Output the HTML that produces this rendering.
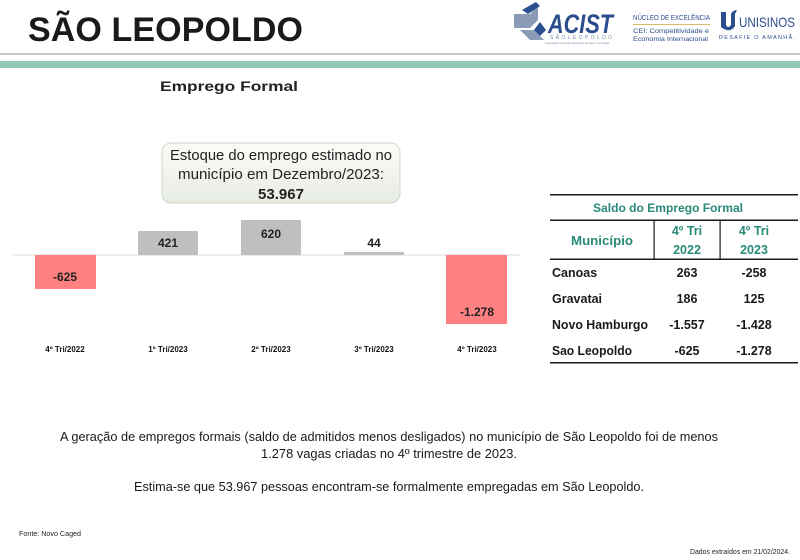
<!DOCTYPE html>
<html><head><meta charset="utf-8"><style>
html,body{margin:0;padding:0;background:#fff;width:800px;height:560px;overflow:hidden}
svg{display:block}
text{font-family:"Liberation Sans",sans-serif}
</style></head><body>
<svg width="800" height="560" viewBox="0 0 800 560" xmlns="http://www.w3.org/2000/svg">
<defs>
<linearGradient id="cg" x1="0" y1="0" x2="0" y2="1">
<stop offset="0" stop-color="#fbfcf8"/><stop offset="1" stop-color="#e7ece3"/>
</linearGradient>
</defs>
<text x="28" y="41" font-size="34" font-weight="bold" fill="#1a1a1a" textLength="275" lengthAdjust="spacing">SÃO LEOPOLDO</text>
<rect x="0" y="53" width="800" height="2" fill="#c6c6c6"/>
<rect x="0" y="61" width="800" height="7" fill="#93c8b8"/>
<g fill="#8a9bb8">
<polygon points="514,14 530,14 538,6 538,20 530,28 514,28"/>
<polygon points="520,30 534,30 544,40 530,40"/>
</g>
<g fill="#2a4f8f">
<polygon points="522,10 536,2 540,6 528,14"/>
<polygon points="540,22 546,30 540,36 534,30"/>
</g>
<text x="548" y="33" font-size="27" font-weight="bold" font-style="italic" fill="#2b4d8e" textLength="65" lengthAdjust="spacingAndGlyphs">ACIST</text>
<text x="550" y="39" font-size="5" fill="#7c8aa8" textLength="62" lengthAdjust="spacing">SÃOLEOPOLDO</text>
<text x="545" y="44" font-size="3" fill="#7c8aa8" textLength="64" lengthAdjust="spacingAndGlyphs">Associação Comercial Industrial de Serviços e Tecnologia</text>
<text x="633" y="20" font-size="7.5" fill="#2b4d8e" textLength="77" lengthAdjust="spacingAndGlyphs">NÚCLEO DE EXCELÊNCIA</text>
<rect x="633" y="24" width="77" height="0.8" fill="#d4a94a"/>
<text x="633" y="33" font-size="6.5" fill="#2b4d8e" textLength="76" lengthAdjust="spacingAndGlyphs">CEI: Competitividade e</text>
<text x="633" y="41" font-size="6.5" fill="#2b4d8e" textLength="75" lengthAdjust="spacingAndGlyphs">Economia Internacional</text>
<path d="M721,12 L726,12 L726,25 Q728,29 731,25 L731,14 Q733,10 737,10 L735,14 L735,26 Q730,34 721,27 Z" fill="#2b4d8e"/>
<text x="739" y="27" font-size="14" fill="#2b4d8e" textLength="56" lengthAdjust="spacingAndGlyphs">UNISINOS</text>
<text x="719" y="39" font-size="5.5" fill="#2b4d8e" textLength="76" lengthAdjust="spacing">DESAFIE O AMANHÃ.</text>
<text x="160" y="91" font-size="14" font-weight="bold" fill="#222" textLength="138" lengthAdjust="spacingAndGlyphs">Emprego Formal</text>
<rect x="162" y="143" width="238" height="60" rx="9" fill="url(#cg)" stroke="#cdd6c8" stroke-width="1"/>
<text x="281" y="160" font-size="14.5" fill="#222" text-anchor="middle" textLength="222" lengthAdjust="spacingAndGlyphs">Estoque do emprego estimado no</text>
<text x="281" y="179" font-size="14.5" fill="#222" text-anchor="middle" textLength="206" lengthAdjust="spacingAndGlyphs">município em Dezembro/2023:</text>
<text x="281" y="199" font-size="15" font-weight="bold" fill="#222" text-anchor="middle">53.967</text>
<rect x="13" y="254.5" width="507" height="1" fill="#d9d9d9"/>
<rect x="35" y="255" width="61" height="34" fill="#ff8080"/>
<rect x="138" y="231" width="60" height="24" fill="#bfbfbf"/>
<rect x="241" y="220" width="60" height="35" fill="#bfbfbf"/>
<rect x="344" y="252" width="60" height="3" fill="#bfbfbf"/>
<rect x="446" y="255" width="61" height="69" fill="#ff8080"/>
<g font-size="12" font-weight="bold" fill="#222" text-anchor="middle">
<text x="65" y="281">-625</text>
<text x="168" y="247">421</text>
<text x="271" y="238">620</text>
<text x="374" y="247">44</text>
<text x="477" y="316">-1.278</text>
</g>
<g font-size="8" font-weight="bold" fill="#111" text-anchor="middle">
<text x="65" y="352">4º Tri/2022</text>
<text x="168" y="352">1º Tri/2023</text>
<text x="271" y="352">2º Tri/2023</text>
<text x="374" y="352">3º Tri/2023</text>
<text x="477" y="352">4º Tri/2023</text>
</g>
<g fill="#1a1a1a">
<rect x="550" y="194" width="248" height="1.5"/>
<rect x="550" y="219.5" width="248" height="1.5"/>
<rect x="550" y="258.5" width="248" height="1.5"/>
<rect x="550" y="362" width="248" height="1.5"/>
<rect x="653.5" y="220" width="1.2" height="39"/>
<rect x="719.5" y="220" width="1.2" height="39"/>
</g>
<g font-weight="bold" fill="#2a8a78" text-anchor="middle">
<text x="668" y="212" font-size="12" textLength="150" lengthAdjust="spacingAndGlyphs">Saldo do Emprego Formal</text>
<text x="602" y="245" font-size="12.5" textLength="62" lengthAdjust="spacingAndGlyphs">Município</text>
<text x="687" y="235" font-size="12.5">4º Tri</text>
<text x="687" y="254" font-size="12.5">2022</text>
<text x="754" y="235" font-size="12.5">4º Tri</text>
<text x="754" y="254" font-size="12.5">2023</text>
</g>
<g font-weight="bold" fill="#1a1a1a" font-size="12.5">
<text x="552" y="277">Canoas</text>
<text x="552" y="303">Gravatai</text>
<text x="552" y="329" textLength="96" lengthAdjust="spacingAndGlyphs">Novo Hamburgo</text>
<text x="552" y="355" textLength="80" lengthAdjust="spacingAndGlyphs">Sao Leopoldo</text>
</g>
<g font-weight="bold" fill="#1a1a1a" font-size="12.5" text-anchor="middle">
<text x="687" y="277">263</text><text x="754" y="277">-258</text>
<text x="687" y="303">186</text><text x="754" y="303">125</text>
<text x="687" y="329">-1.557</text><text x="754" y="329">-1.428</text>
<text x="687" y="355">-625</text><text x="754" y="355">-1.278</text>
</g>
<g font-size="13" fill="#1a1a1a" text-anchor="middle">
<text x="389" y="441" textLength="658" lengthAdjust="spacingAndGlyphs">A geração de empregos formais (saldo de admitidos menos desligados) no município de São Leopoldo foi de menos</text>
<text x="389" y="458" textLength="256" lengthAdjust="spacingAndGlyphs">1.278 vagas criadas no 4º trimestre de 2023.</text>
<text x="389" y="491" textLength="510" lengthAdjust="spacingAndGlyphs">Estima-se que 53.967 pessoas encontram-se formalmente empregadas em São Leopoldo.</text>
</g>
<text x="19" y="536" font-size="7" fill="#222" textLength="62" lengthAdjust="spacingAndGlyphs">Fonte: Novo Caged</text>
<text x="690" y="554" font-size="7" fill="#222" textLength="100" lengthAdjust="spacingAndGlyphs">Dados extraídos em 21/02/2024.</text>
</svg>
</body></html>
